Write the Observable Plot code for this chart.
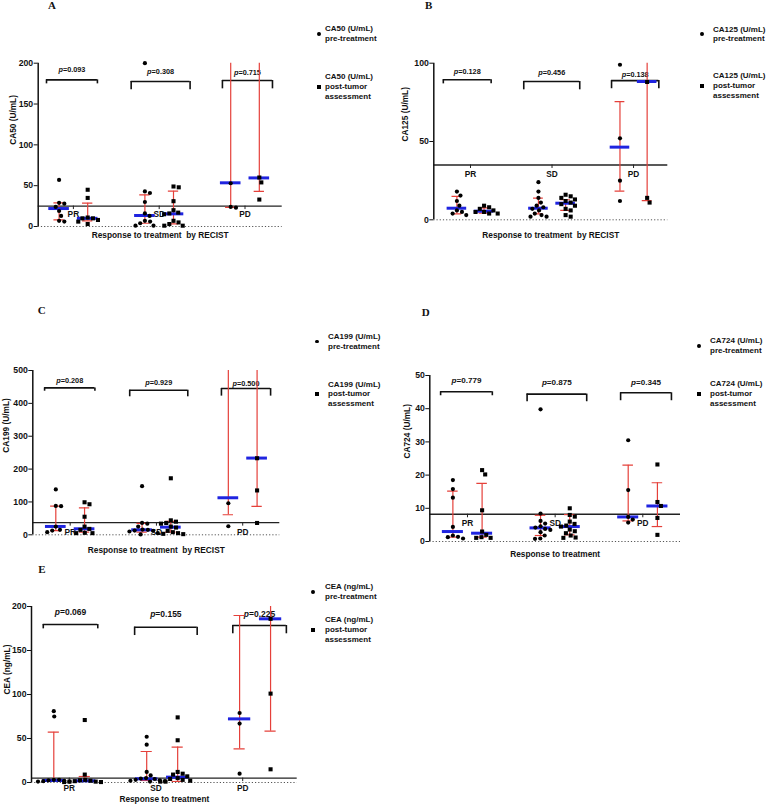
<!DOCTYPE html>
<html>
<head>
<meta charset="utf-8">
<script src="https://cdn.jsdelivr.net/npm/d3@7"></script>
<script src="https://cdn.jsdelivr.net/npm/@observablehq/plot@0.6"></script>
<style>
  body { margin: 0; background: #fff; }
  #fig { position: relative; width: 766px; height: 807px; overflow: hidden; font-family: "Liberation Sans", Arial, sans-serif; color: #111; }
  .panel { position: absolute; }
  .letter { position: absolute; font-family: "Liberation Serif", "Times New Roman", serif; font-weight: bold; font-size: 11px; line-height: 11px; }
  .leg { position: absolute; font-size: 8px; font-weight: bold; line-height: 9.7px; white-space: nowrap; }
  .sym { position: absolute; background: #000; }
</style>
</head>
<body>
<div id="fig"></div>
<script>
// ---------------- DATA ----------------
// group order: PR pre, PR post, SD pre, SD post, PD pre, PD post
const groupNames = ["PR", "SD", "PD"];
const seriesNames = ["pre-treatment", "post-tumor assessment"];

// A: CA50 (U/mL)
const ca50Values = [
  [57, 29, 28, 24, 19, 13, 7, 6],
  [45, 35, 11, 10, 10, 8, 6, 3],
  [200, 43, 41, 30, 16, 13, 7, 6, 4, 1, 1],
  [49, 48, 31, 20, 17, 16, 15, 7, 5, 3, 1, 1],
  [53, 24, 23],
  [60, 54, 33]
];
const ca50Median = [22, 10, 13.5, 15.5, 53.5, 59.5];
const ca50Q1 = [8, 7, 4, 3.3, 23.5, 43];
const ca50Q3 = [29, 28.6, 38.8, 43.3, 230, 230];
const ca50P = ["0.093", "0.308", "0.715"];
const ca50Cutoff = 25;
const ca50Ticks = [0, 50, 100, 150, 200];

// B: CA125 (U/mL)
const ca125Values = [
  [18, 15.5, 12, 9, 6, 5, 4, 3],
  [9, 8, 7, 6, 5, 5, 4, 4],
  [24, 18, 14, 11, 9, 8, 7, 6, 4, 3, 2, 2],
  [16, 15, 14, 13, 12, 11, 10, 9, 7, 6, 3, 2],
  [99, 52, 25, 12],
  [88, 14, 11]
];
const ca125Median = [7.4, 5.5, 7.4, 10.6, 46.4, 88.3];
const ca125Q1 = [3.8, 4.3, 3.8, 6, 18.3, 12.3];
const ca125Q3 = [14.9, 7.6, 13.8, 12.8, 75.5, 115];
const ca125P = ["0.128", "0.456", "0.138"];
const ca125Cutoff = 35;
const ca125Ticks = [0, 50, 100];

// C: CA199 (U/mL)
const ca199Values = [
  [138, 88, 87, 25, 15, 13, 8],
  [99, 93, 55, 25, 18, 15, 6, 5, 5],
  [148, 36, 34, 25, 16, 15, 13, 12, 10, 5, 1],
  [172, 44, 40, 36, 34, 25, 22, 12, 8, 5, 3, 2],
  [96, 26],
  [233, 135, 36]
];
const ca199Median = [25.4, 18.3, 15.2, 23.3, 112.7, 233.5];
const ca199Q1 = [13, 8, 8, 8, 61, 86.3];
const ca199Q3 = [87, 82, 35, 40.6, 600, 600];
const ca199P = ["0.208", "0.929", "0.500"];
const ca199Cutoff = 37;
const ca199Ticks = [0, 100, 200, 300, 400, 500];

// D: CA724 (U/mL)
const ca724Values = [
  [18.5, 15.8, 13.2, 4.4, 1.8, 1.4, 1.3, 0.9],
  [21.5, 20.2, 9.4, 3.0, 2.0, 1.3, 1.1, 1.1],
  [39.8, 8.4, 6.2, 5.4, 4.6, 4.2, 3.8, 3.5, 2.8, 1.8, 0.9, 0.8],
  [10, 8, 7.5, 6, 5.3, 4.8, 4.5, 3.6, 3.1, 2.5, 1.8, 1.2, 1.1],
  [30.5, 15.5, 7.4, 6.6, 5.7],
  [23.2, 11.9, 10.7, 7.1, 2.0]
];
const ca724Median = [3.0, 2.5, 4.1, 4.5, 7.4, 10.7];
const ca724Q1 = [1.3, 1.3, 1.8, 2.0, 6.2, 4.5];
const ca724Q3 = [15.2, 17.5, 7.9, 8.1, 23, 17.7];
const ca724P = ["0.779", "0.875", "0.345"];
const ca724Cutoff = 8.2;
const ca724Ticks = [0, 10, 20, 30, 40, 50];

// E: CEA (ng/mL)
const ceaValues = [
  [81, 75, 3, 3, 2.5, 2, 1.5, 1, 1],
  [71, 9, 3, 2.5, 2, 1.5, 1, 1, 0.5, 0.5],
  [52, 43, 12, 8, 5, 4.5, 4, 3, 2.5, 2, 1.5, 1],
  [74, 48, 12, 10, 9, 7, 5, 4, 3, 2, 1, 1],
  [79, 67, 10],
  [186, 101, 15]
];
const ceaMedian = [2.3, 1.9, 4.2, 6.1, 72.3, 186];
const ceaQ1 = [1.1, 0.4, 2.3, 1.1, 38.3, 58.3];
const ceaQ3 = [57.2, 6.8, 35.2, 40.2, 189.8, 230];
const ceaP = ["0.069", "0.155", "0.225"];
const ceaCutoff = 5;
const ceaTicks = [0, 50, 100, 150, 200];

// ---------------- LAYOUT ----------------
const groupX = [0, 1, 3, 4, 6, 7];
const RED = "#e5403a", BLUE = "#1f24e0", INK = "#111";

const panels = [
  {letter: "A", letterPos: [48, 0.3], name: "CA50 (U/mL)", values: ca50Values, median: ca50Median, q1: ca50Q1, q3: ca50Q3, p: ca50P,
   cutoff: ca50Cutoff, ticks: ca50Ticks, yMax: 200, xTitle: "Response to treatment  by RECIST",
   box: [0, 40, 300, 210], frame: [37.7, 281.7, 62.7, 226], xDomain: [-0.73, 7.8], catX: [0.5, 3.5, 6.5],
   br: {x1: [-0.44, 2.52, 5.71], x2: [1.34, 4.58, 7.46], top: [179.6, 177.5, 178.8], leg: [174.7, 167.4, 168.6], ty: [192, 190, 188]},
   catDy: 8.5, titleDy: 11.3, ylabDx: -25, pSize: 7.3,
   legend: {sx: 319, tx: 325, preTop: 24.2, postTop: 72.2}},
  {letter: "B", letterPos: [425, 0], name: "CA125 (U/mL)", values: ca125Values, median: ca125Median, q1: ca125Q1, q3: ca125Q3, p: ca125P,
   cutoff: ca125Cutoff, ticks: ca125Ticks, yMax: 100, xTitle: "Response to treatment  by RECIST",
   box: [380, 40, 300, 210], frame: [433.3, 667.3, 62.7, 219.3], xDomain: [-0.85, 7.76], catX: [0.5, 3.5, 6.5],
   br: {x1: [-0.5, 2.46, 5.69], x2: [1.26, 4.52, 7.43], top: [89.4, 88.3, 88.9], leg: [86.8, 83, 83.7], ty: [94.7, 93.9, 92.8]},
   catDy: 9.7, titleDy: 18, ylabDx: -28.3, pSize: 7.3,
   legend: {sx: 702, tx: 713, preTop: 24.5, postTop: 71.2}},
  {letter: "C", letterPos: [37.7, 305.3], name: "CA199 (U/mL)", values: ca199Values, median: ca199Median, q1: ca199Q1, q3: ca199Q3, p: ca199P,
   cutoff: ca199Cutoff, ticks: ca199Ticks, yMax: 500, xTitle: "Response to treatment  by RECIST",
   box: [0, 340, 300, 225], frame: [32.3, 279.3, 370, 534.3], xDomain: [-0.8, 7.79], catX: [0.5, 3.5, 6.5],
   br: {x1: [-0.39, 2.57, 5.76], x2: [1.36, 4.59, 7.47], top: [447, 440, 445], leg: [437, 420, 422], ty: [468, 462, 460]},
   catDy: 9.5, titleDy: 18, ylabDx: -26.6, pSize: 7.3,
   legend: {sx: 317.3, tx: 328, preTop: 331.9, postTop: 379.5}},
  {letter: "D", letterPos: [421.7, 307.3], name: "CA724 (U/mL)", values: ca724Values, median: ca724Median, q1: ca724Q1, q3: ca724Q3, p: ca724P,
   cutoff: ca724Cutoff, ticks: ca724Ticks, yMax: 50, xTitle: "Response to treatment",
   box: [380, 340, 310, 225], frame: [429.3, 680, 375, 541], xDomain: [-0.79, 7.79], catX: [0.5, 3.5, 6.5],
   br: {x1: [-0.42, 2.54, 5.74], x2: [1.35, 4.58, 7.48], top: [45.1, 44.4, 44.8], leg: [43.9, 42.1, 42.4], ty: [48.6, 47.8, 47.8]},
   catDy: 9.4, titleDy: 15, ylabDx: -22, pSize: 8.1,
   legend: {sx: 699, tx: 710, preTop: 336.2, postTop: 379.2}},
  {letter: "E", letterPos: [38.3, 563.8], name: "CEA (ng/mL)", values: ceaValues, median: ceaMedian, q1: ceaQ1, q3: ceaQ3, p: ceaP,
   cutoff: ceaCutoff, ticks: ceaTicks, yMax: 200, xTitle: "Response to treatment",
   box: [0, 580, 310, 227], frame: [31, 296.7, 606, 782], xDomain: [-0.72, 7.86], catX: [0.5, 3.3, 6.1],
   br: {x1: [-0.34, 2.61, 5.78], x2: [1.42, 4.63, 7.51], top: [179.5, 176.5, 178.4], leg: [174.6, 167, 169], ty: [193.5, 191, 191]},
   catDy: 10, titleDy: 19, ylabDx: -24.3, pSize: 8.5,
   legend: {sx: 313.3, tx: 325, preTop: 582.2, postTop: 615.2}}
];

// deterministic dodge (beeswarm) of points within a column, in pixels
function dodge(vals, ky, d) {
  const order = d3.range(vals.length).sort((a, b) => vals[b] - vals[a]);
  const placed = [], off = new Array(vals.length);
  for (const i of order) {
    const y = vals[i] * ky;
    const cands = [0];
    for (const p of placed) {
      const dy = Math.abs(p.y - y);
      if (dy < d) { const dx = Math.sqrt(d * d - dy * dy); cands.push(p.x + dx, p.x - dx); }
    }
    cands.sort((a, b) => Math.abs(a) - Math.abs(b) || b - a);
    let chosen = 0;
    for (const c of cands) {
      if (placed.every(p => (p.x - c) ** 2 + (p.y - y) ** 2 >= d * d - 1e-6)) { chosen = c; break; }
    }
    placed.push({x: chosen, y});
    off[i] = chosen;
  }
  return off;
}

const fig = document.getElementById("fig");

for (const cfg of panels) {
  const [bx, by, bw, bh] = cfg.box;
  const [fl, fr, ft, fb] = cfg.frame;
  const kx = (fr - fl) / (cfg.xDomain[1] - cfg.xDomain[0]);
  const ky = (fb - ft) / cfg.yMax;

  const pts = [];
  cfg.values.forEach((vals, g) => {
    const off = dodge(vals, ky, 5.3);
    vals.forEach((v, i) => pts.push({series: g % 2 ? seriesNames[1] : seriesNames[0], v, x: groupX[g] + off[i] / kx}));
  });
  const stats = groupX.map((x, g) => ({x, median: cfg.median[g], q1: cfg.q1[g], q3: cfg.q3[g]}));
  const caps = stats.flatMap(s => [{x: s.x, y: s.q1}, {x: s.x, y: s.q3}]);
  const cats = groupNames.map((name, i) => ({name, x: cfg.catX[i]}));
  const br = cfg.p.map((p, i) => ({p, x1: cfg.br.x1[i], x2: cfg.br.x2[i], top: cfg.br.top[i], leg: cfg.br.leg[i], ty: cfg.br.ty[i]}));
  const legs = br.flatMap(b => [{x: b.x1, top: b.top, leg: b.leg}, {x: b.x2, top: b.top, leg: b.leg}]);
  const pDx = -1.24 * cfg.pSize;

  const chart = Plot.plot({
    width: bw, height: bh,
    marginLeft: fl - bx, marginRight: bx + bw - fr, marginTop: ft - by, marginBottom: by + bh - fb,
    x: {domain: cfg.xDomain, axis: null},
    y: {domain: [0, cfg.yMax], axis: null, label: null},
    style: {fontFamily: "'Liberation Sans', Arial, sans-serif", fontSize: "8.5px", fontWeight: "bold", background: "none", overflow: "visible", color: INK},
    marks: [
      Plot.ruleY([0], {stroke: "#555", strokeDasharray: "1.2,2", strokeWidth: 1}),
      Plot.ruleY([cfg.cutoff], {stroke: "#222", strokeWidth: 1.4}),
      Plot.ruleX(cats, {x: "x", y1: cfg.cutoff, y2: cfg.cutoff - 3.5 / ky, stroke: "#222", strokeWidth: 1}),
      Plot.text(cats, {x: "x", y: () => cfg.cutoff, text: "name", dy: cfg.catDy, fontSize: 8.3, fontWeight: "bold"}),
      Plot.ruleX([cfg.xDomain[0]], {y1: 0, y2: cfg.yMax, stroke: INK, strokeWidth: 1.5}),
      Plot.axisY(cfg.ticks, {tickSize: 4, tickPadding: 1, fontSize: 8.7, fontWeight: "bold", label: null, stroke: INK}),
      Plot.text([cfg.name], {frameAnchor: "left", rotate: -90, dx: cfg.ylabDx, text: d => d, fontSize: 8.3, fontWeight: "bold"}),
      Plot.text([cfg.xTitle], {frameAnchor: "bottom", dy: cfg.titleDy, text: d => d, fontSize: 8.3, fontWeight: "bold"}),
      // significance brackets
      Plot.ruleY(br, {x1: "x1", x2: "x2", y: "top", stroke: INK, strokeWidth: 1.6}),
      Plot.ruleX(legs, {x: "x", y1: "leg", y2: "top", stroke: INK, strokeWidth: 1.6}),
      Plot.text(br, {x: d => (d.x1 + d.x2) / 2, y: "ty", text: () => "p", fontStyle: "italic", textAnchor: "end", dx: pDx, fontSize: cfg.pSize, fontWeight: "bold"}),
      Plot.text(br, {x: d => (d.x1 + d.x2) / 2, y: "ty", text: d => "=" + d.p, textAnchor: "start", dx: pDx, fontSize: cfg.pSize, fontWeight: "bold"}),
      // interquartile range
      Plot.ruleX(stats, {x: "x", y1: "q1", y2: "q3", stroke: RED, strokeWidth: 1.2, clip: true}),
      Plot.ruleY(caps, {x1: d => d.x - 0.18, x2: d => d.x + 0.18, y: "y", stroke: RED, strokeWidth: 1.2, clip: true}),
      // median
      Plot.ruleY(stats, {x1: d => d.x - 0.36, x2: d => d.x + 0.36, y: "median", stroke: BLUE, strokeWidth: 3}),
      // points
      Plot.dot(pts.filter(d => d.series === seriesNames[0]), {x: "x", y: "v", r: 2.1, symbol: "circle", fill: "#000", stroke: "none"}),
      Plot.dot(pts.filter(d => d.series === seriesNames[1]), {x: "x", y: "v", r: 2.3, symbol: "square", fill: "#000", stroke: "none"})
    ]
  });
  chart.classList.add("panel");
  chart.style.left = bx + "px";
  chart.style.top = by + "px";
  fig.appendChild(chart);

  // panel letter
  const L = document.createElement("div");
  L.className = "letter";
  L.textContent = cfg.letter;
  L.style.left = cfg.letterPos[0] + "px";
  L.style.top = cfg.letterPos[1] + "px";
  fig.appendChild(L);

  // legend
  const lg = cfg.legend;
  const blocks = [
    {lines: [cfg.name, "pre-treatment"], top: lg.preTop, square: false},
    {lines: [cfg.name, "post-tumor", "assessment"], top: lg.postTop, square: true}
  ];
  for (const b of blocks) {
    const t = document.createElement("div");
    t.className = "leg";
    t.innerHTML = b.lines.join("<br>");
    t.style.left = lg.tx + "px";
    t.style.top = b.top + "px";
    fig.appendChild(t);
    const s = document.createElement("div");
    s.className = "sym";
    const size = b.square ? 4 : 3.8;
    const cy = b.top + b.lines.length * 9.7 / 2;
    s.style.width = size + "px"; s.style.height = size + "px";
    s.style.left = (lg.sx - size / 2) + "px";
    s.style.top = (cy - size / 2) + "px";
    if (!b.square) s.style.borderRadius = "50%";
    fig.appendChild(s);
  }
}
</script>
</body>
</html>
